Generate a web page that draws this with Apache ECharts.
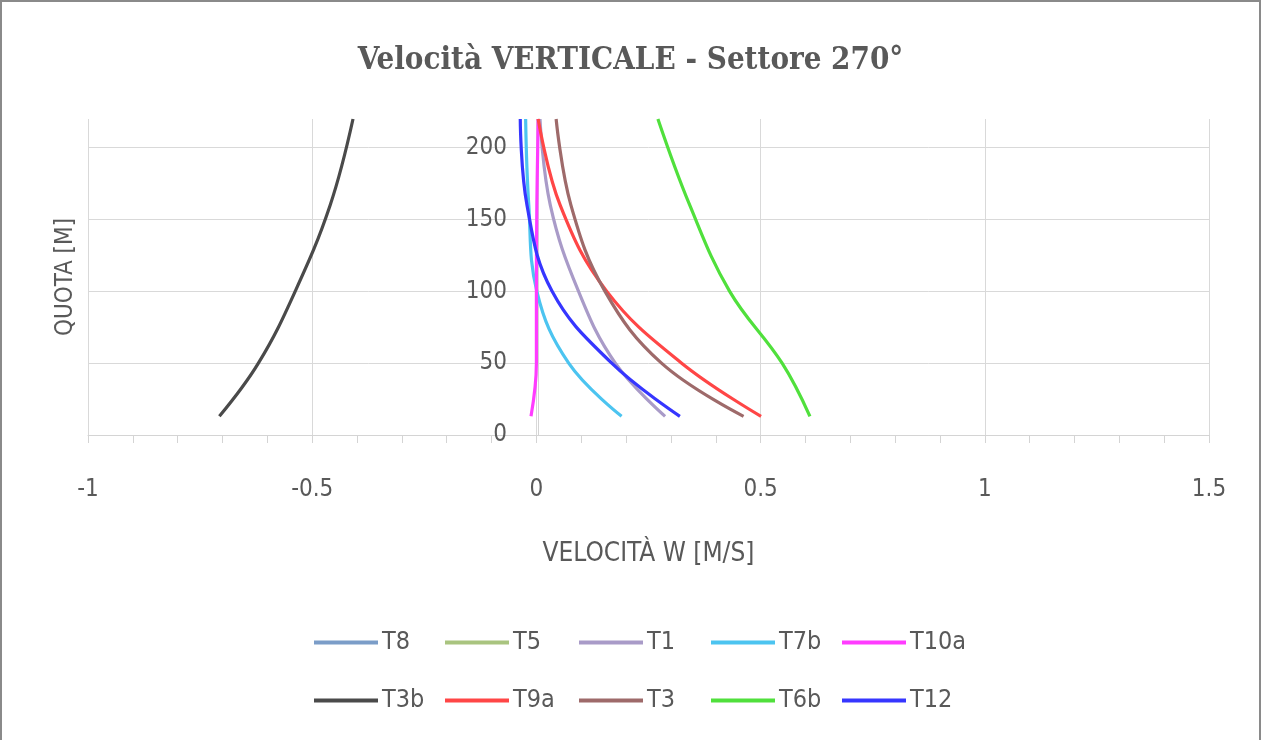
<!DOCTYPE html>
<html>
<head>
<meta charset="utf-8">
<script src="https://cdn.jsdelivr.net/npm/echarts@6/dist/echarts.min.js"></script>
<style>
  html, body { margin: 0; padding: 0; background: #fff; }
  #chart { width: 1261px; height: 740px; box-sizing: border-box; border: 2px solid #8a8a8a; border-bottom: none; }
</style>
</head>
<body>
<div id="chart"></div>
<script>
// quota (m) at which each profile is sampled
const heights = [13, 50, 100, 160, 220];
const yTicks = [0, 50, 100, 150, 200];

const names = ['T8', 'T5', 'T1', 'T7b', 'T10a', 'T3b', 'T9a', 'T3', 'T6b', 'T12'];
const colors = ['#7b9dc8', '#a9c47f', '#a99bc8', '#4cc4f0', '#ff3cff', '#4a4a4a', '#ff4646', '#9e6a6a', '#50e03c', '#3636ff'];

// vertical velocity W (m/s) per series, same order as heights
const T8 = [];
const T5 = [];
const T1 = [0.287, 0.176, 0.094, 0.031, 0.008];
const T7b = [0.19, 0.072, 0.001, -0.017, -0.024];
const T10a = [-0.012, 0.0, 0.0, 0.001, 0.004];
const T3b = [-0.707, -0.62, -0.538, -0.46, -0.409];
const T9a = [0.501, 0.324, 0.157, 0.053, 0.004];
const T3 = [0.462, 0.279, 0.153, 0.077, 0.044];
const T6b = [0.61, 0.548, 0.431, 0.342, 0.271];
const T12 = [0.32, 0.168, 0.035, -0.021, -0.036];

const values = [T8, T5, T1, T7b, T10a, T3b, T9a, T3, T6b, T12];

const font = "'Liberation Sans Narrow', 'DejaVu Sans Condensed', sans-serif";
const grey = '#595959';

const chart = echarts.init(document.getElementById('chart'));

const series = names.map((n, i) => ({
  name: n,
  type: 'line',
  smooth: 0.4,
  showSymbol: false,
  lineStyle: { width: 3.2, color: colors[i] },
  itemStyle: { color: colors[i] },
  data: values[i].map((v, k) => [v, heights[k]]),
}));

// one legend per entry so the columns line up like the original
const legendCols = [312, 443, 577, 709, 840];
const legendRows = [628, 686];
const legends = names.map((n, i) => ({
  data: [n],
  left: legendCols[i % 5],
  top: legendRows[Math.floor(i / 5)],
  icon: 'rect',
  itemWidth: 64,
  itemHeight: 4,
  itemGap: 0,
  padding: 0,
  textStyle: { fontFamily: font, fontSize: 25, color: grey, padding: [0, 0, 0, -1] },
}));

chart.setOption({
  animation: false,
  backgroundColor: '#fff',
  color: colors,
  title: {
    text: 'Velocità VERTICALE - Settore 270°',
    left: 'center',
    top: 38,
    textStyle: { fontFamily: "'DejaVu Serif Condensed', 'DejaVu Serif', serif", fontSize: 31, fontWeight: 'bold', color: grey },
  },
  grid: { left: 86, right: 50, top: 117, bottom: 305, containLabel: false, outerBoundsMode: 'none' },
  legend: legends,
  xAxis: {
    type: 'value',
    min: -1,
    max: 1.5,
    interval: 0.5,
    name: 'VELOCITÀ W [M/S]',
    nameLocation: 'middle',
    nameGap: 106,
    nameTextStyle: { fontFamily: font, fontSize: 26, color: grey },
    axisLine: { show: true, onZero: false, lineStyle: { color: '#d4d4d4', width: 1 } },
    axisTick: { show: true, length: 8, lineStyle: { color: '#d4d4d4' } },
    minorTick: { show: true, splitNumber: 5, length: 8, lineStyle: { color: '#d4d4d4' } },
    axisLabel: { margin: 43, fontFamily: font, fontSize: 24, color: grey },
    splitLine: { show: true, lineStyle: { color: '#d9d9d9', width: 1 } },
  },
  yAxis: {
    type: 'value',
    min: 0,
    max: 220,
    interval: 50,
    offset: -450,
    name: 'QUOTA [M]',
    nameLocation: 'middle',
    nameRotate: 90,
    nameGap: 460,
    nameTextStyle: { fontFamily: font, fontSize: 24, color: grey },
    axisLine: { show: true, onZero: false, lineStyle: { color: '#d4d4d4', width: 1 } },
    axisTick: { show: false, customValues: yTicks },
    axisLabel: { margin: 31, fontFamily: font, fontSize: 24, color: grey, customValues: yTicks },
    splitLine: { show: true, lineStyle: { color: '#d9d9d9', width: 1 } },
  },
  series: series,
});
</script>
</body>
</html>
